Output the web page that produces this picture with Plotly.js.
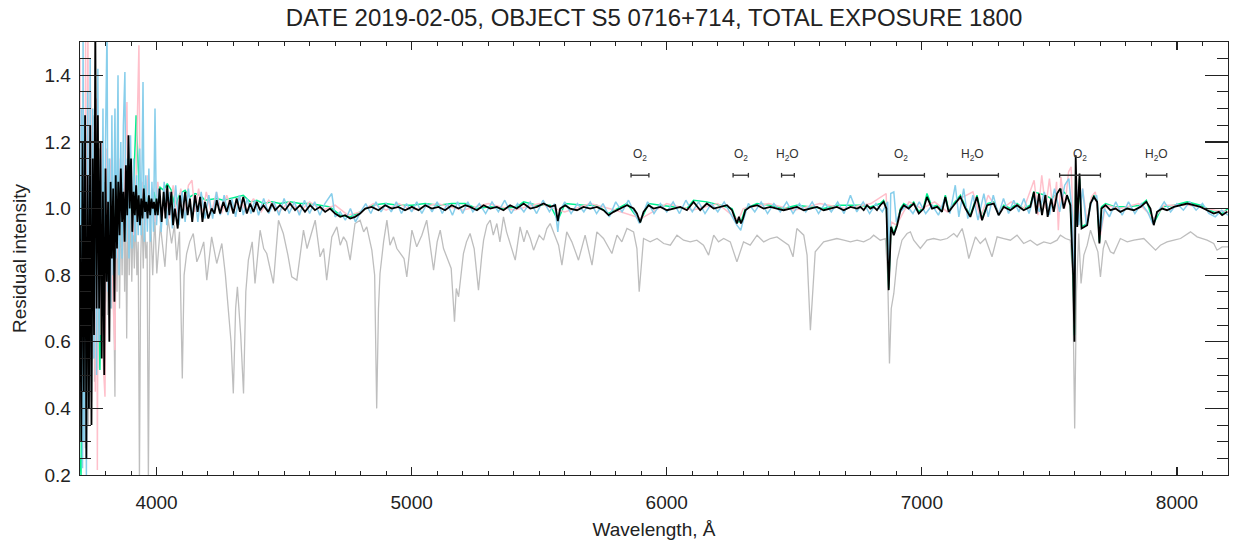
<!DOCTYPE html>
<html>
<head>
<meta charset="utf-8">
<script src="https://cdn.plot.ly/plotly-3.0.1.min.js"></script>
<style>html,body{margin:0;padding:0;background:#fff;}#chart{width:1238px;height:544px;}</style>
</head>
<body>
<div id="chart"></div>
<script>
// ---- Gray (comparison) spectrum ----
const grayWl = [3700,3703,3706,3709,3712,3715,3718,3721,3724,3727,3730,3733,3736,3739,3742,3745,3748,3751,3754,3757,3760,3763,3766,3769,3772,3775,3778,3781,3784,3787,3790,3793,3796,3800,3804,3808,3812,3816,3820,3824,3828,3832,3837,3841,3845,3850,3855,3860,3865,3870,3875,3879,3883,3888,3893,3898,3903,3908,3913,3918,3923,3928,3933,3938,3943,3948,3953,3958,3963,3968,3972,
3975,3985,3993,4001,4015,4033,4045,4059,4070,4079,4090,4101,4108,4118,4130,4144,4158,4171,4185,4197,4216,4236,4256,4270,4282,4292,4301,4310,4317,4330,4341,4350,4360,4375,4386,4406,4420,4432,4445,4458,4478,4497,4515,4530,4550,4565,4576,4590,4602,4622,4641,4655,4667,4687,4707,4720,4733,4745,4759,4778,4798,4812,4824,4844,4855,4863,4870,4876,4890,4903,4915,4929,4942,4955,4970,4981,5001,5020,5040,5059,5075,5086,5100,5112,5125,5138,5155,5168,5175,5184,5195,5203,5215,5229,5245,5262,5275,5282,5295,5308,5320,5334,5346,5360,5372,5386,5406,5425,5440,5452,5465,5478,5500,5517,5530,5543,
5576,5589,5608,5628,5654,5680,5707,5726,5752,5785,5805,5824,5844,5870,5883,5892,5900,5909,5935,5962,5988,6014,6040,6066,6092,6118,6144,6164,6184,6203,6223,6249,6275,6288,6301,6327,6354,6380,6406,6432,6458,6478,6495,6510,6537,6550,6563,6573,6582,6615,6641,6667,6694,6720,6746,6772,6798,
6811,6837,6857,6866,6873,6880,6890,6903,6922,6942,6955,6968,6994,7020,7046,7073,7099,7125,7138,7158,7171,7184,7197,7210,7229,7249,7275,7295,7321,7347,7373,7399,7425,7452,7478,7504,7530,7543,7563,7582,7591,7599,7606,7615,7624,7635,7648,7661,7674,7690,7700,7711,7720,7739,7752,7778,7805,7831,7870,7896,7916,7935,7961,7988,8014,8053,8079,8118,8144,8157,8177,8200];
const grayFlux = [1.10,0.40,1.30,0.30,1.35,0.45,1.28,0.28,1.22,0.40,1.30,0.35,1.18,0.50,1.25,0.42,1.20,0.55,1.28,0.48,1.15,0.60,1.22,0.52,1.12,0.65,1.18,0.58,1.10,0.70,1.15,0.62,1.08,0.72,1.12,0.68,1.05,0.75,1.10,0.70,1.02,0.78,0.435,1.05,0.75,1.08,0.70,1.02,0.80,1.06,0.75,1.00,0.61,1.05,0.80,1.02,0.78,0.98,0.82,1.00,0.80,0.90,0.18,0.85,1.00,0.82,0.98,0.85,0.90,0.18,0.88,
1.01,0.80,0.98,0.805,0.95,0.825,0.97,0.895,0.95,0.845,0.93,0.49,0.80,0.865,0.90,0.925,0.84,0.865,0.90,0.785,0.915,0.835,0.895,0.80,0.685,0.60,0.445,0.70,0.765,0.62,0.445,0.75,0.845,0.90,0.775,0.935,0.88,0.865,0.82,0.775,0.965,0.925,0.86,0.795,0.785,0.88,0.935,0.88,0.915,0.965,0.855,0.88,0.785,0.915,0.945,0.89,0.915,0.90,0.845,0.955,0.965,0.93,0.945,0.875,0.80,0.40,0.70,0.805,0.90,0.965,0.89,0.915,0.88,0.865,0.85,0.795,0.935,0.885,0.92,0.965,0.88,0.815,0.90,0.935,0.88,0.855,0.82,0.66,0.76,0.735,0.82,0.865,0.90,0.925,0.88,0.755,0.86,0.905,0.95,0.965,0.92,0.955,0.90,0.975,0.93,0.895,0.845,0.945,0.90,0.935,0.91,0.875,0.92,0.905,0.94,0.955,
0.89,0.83,0.93,0.90,0.845,0.92,0.83,0.93,0.91,0.865,0.92,0.90,0.94,0.93,0.88,0.75,0.82,0.91,0.90,0.91,0.895,0.89,0.92,0.905,0.90,0.905,0.89,0.86,0.92,0.90,0.91,0.90,0.84,0.87,0.90,0.89,0.92,0.90,0.91,0.915,0.90,0.89,0.855,0.94,0.92,0.86,0.635,0.78,0.87,0.90,0.905,0.91,0.905,0.90,0.905,0.90,0.91,
0.92,0.905,0.91,0.80,0.535,0.70,0.745,0.845,0.905,0.925,0.93,0.905,0.88,0.905,0.91,0.905,0.91,0.925,0.915,0.94,0.90,0.85,0.88,0.915,0.895,0.91,0.855,0.915,0.91,0.905,0.92,0.895,0.905,0.89,0.90,0.895,0.905,0.92,0.91,0.905,0.80,0.34,0.75,0.925,0.775,0.86,0.89,0.935,0.905,0.87,0.795,0.88,0.905,0.87,0.865,0.91,0.90,0.905,0.91,0.89,0.875,0.89,0.90,0.905,0.91,0.93,0.915,0.905,0.895,0.875,0.885,0.885];

// ---- Black (main) spectrum ----
const blackWl = [3700,3705,3710,3715,3720,3725,3730,3735,3740,3745,3750,3755,3760,3765,3770,3775,3780,3785,3790,3795,3800,3805,3810,3815,3820,3825,3830,3835,3840,3845,3850,3855,3860,3865,3870,3875,3880,3885,3890,3895,3900,3905,3910,3915,3920,3925,3930,3935,3940,3945,3950,3955,3960,3965,3970,3975,3980,3985,3990,3995,4000,4005,4012,4020,4028,4035,4042,4050,4058,4065,
4072,4083,4092,4101,4112,4122,4131,4140,4151,4161,4171,4180,4190,4203,4216,4227,4236,4249,4262,4275,4288,4301,4314,4327,4340,4354,4367,4380,4393,4406,4419,4438,4452,4465,4484,4504,4523,4543,4563,4582,4602,4621,4641,4661,4680,4700,4720,4739,4759,4778,4798,4818,4844,4870,4896,4922,4948,4974,5001,5027,5053,5079,5105,5131,5157,5184,5210,
5229,5256,5282,5308,5334,5360,5386,5412,5439,5465,5491,5517,5543,5563,5573,5582,5602,5621,5648,5674,5700,5726,5752,5772,5792,5818,5844,5870,5883,5896,5909,5929,5948,5975,6001,6027,6053,6079,6105,6131,6157,6184,6210,6236,6256,6269,6275,6283,6291,6299,6308,6327,6354,6380,6406,6432,6458,6484,6510,6537,6563,6589,6615,6641,6667,6694,6720,6746,
6759,6772,6785,6798,6811,6824,6837,6850,6861,6870,6879,6890,6903,6916,6929,6948,6968,6988,7007,7020,7040,7060,7079,7092,7105,7125,7151,7171,7190,7216,7236,7256,7282,7301,7321,7347,7373,7399,7425,7439,7449,7459,7471,7484,7493,7507,7517,7530,7543,7556,7569,7582,7593,7598,7603,7609,7618,7626,7635,7648,7661,7674,7687,7696,7704,7720,7739,7759,7778,7805,7831,7857,7880,7896,7909,7922,7942,7961,7988,8014,8040,8066,8092,8118,8144,8164,8177,8197];
const blackFlux = [0.95,0.30,1.20,0.45,1.28,0.25,1.10,0.40,1.25,0.35,1.15,0.62,1.55,0.70,1.28,0.70,1.20,0.55,1.05,0.50,1.12,0.78,1.02,0.60,1.08,0.85,1.06,0.72,1.10,0.88,1.08,0.92,1.12,0.96,1.05,0.90,1.13,0.98,1.22,1.00,1.15,0.93,1.05,0.98,1.07,0.96,1.04,0.95,1.03,0.97,1.06,0.99,1.02,0.97,1.04,0.98,1.03,1.00,1.02,0.98,1.03,0.98,1.06,0.96,1.05,0.97,1.07,0.98,1.05,0.95,
1.00,0.94,1.04,0.97,1.05,0.98,1.03,0.96,1.04,0.99,1.035,0.96,1.02,0.97,1.00,0.985,1.025,0.985,1.02,0.99,1.025,0.985,1.03,0.99,1.035,0.985,1.015,0.99,1.02,0.995,1.01,0.99,1.015,0.995,1.01,0.995,1.015,0.995,1.01,0.99,1.01,0.995,1.005,0.99,1.0,0.985,0.975,0.98,0.97,0.975,0.985,1.0,1.005,0.995,1.01,1.0,1.005,0.995,1.005,0.995,1.01,1.0,1.005,0.995,1.01,1.0,1.01,
1.005,0.995,1.01,1.0,1.005,0.995,1.01,1.0,1.015,1.0,1.005,1.015,1.005,1.01,0.962,1.0,1.01,1.0,0.995,1.005,1.0,1.005,0.995,0.98,0.99,1.0,1.01,1.0,0.985,0.958,0.99,1.01,1.0,1.005,0.995,1.0,1.005,0.995,1.02,0.995,1.015,1.0,1.005,1.01,0.995,0.97,0.955,0.975,0.955,0.97,0.995,1.005,1.01,1.0,1.005,1.0,0.995,1.0,1.005,0.995,1.0,1.005,0.995,1.0,1.005,0.995,1.005,1.0,
1.005,0.995,1.01,1.0,1.005,0.995,1.01,1.02,1.0,0.755,0.945,0.92,0.95,0.995,1.01,1.0,1.015,0.985,1.0,1.035,1.0,1.005,0.99,1.035,0.99,1.01,1.035,1.0,0.975,1.035,0.965,1.01,1.015,0.98,1.005,0.995,1.01,0.995,1.005,1.05,0.985,1.045,0.98,1.04,0.975,1.03,0.99,1.045,1.06,1.0,1.04,1.01,0.80,0.60,1.16,0.945,1.105,0.94,0.945,0.95,1.015,1.035,1.02,0.895,1.0,1.01,0.995,1.0,0.99,1.0,0.995,1.005,1.02,1.0,0.95,0.99,1.0,0.995,1.005,1.01,1.015,1.01,1.005,0.995,0.985,0.99,0.98,0.99];

// ---- Sky-blue spectrum ----
const skyWl = [3700,3705,3710,3712,3716,3720,3725,3730,3735,3740,3745,3750,3755,3760,3765,3770,3775,3780,3785,3790,3795,3800,3806,3810,3815,3820,3825,3830,3837,3842,3849,3853,3860,3865,3870,3876,3880,3886,3892,3898,3904,3910,3916,3922,3928,3934,3940,3947,3952,3958,3964,3970,3976,3982,3988,3994,4000,
4008,4018,4030,4040,4052,4062,4075,4088,4100,4112,4125,4138,4150,4162,4175,4190,4205,4220,4235,4250,4265,4280,4295,4310,4325,4340,4355,4370,4385,4400,4420,4440,4460,4480,4500,4520,4540,4560,4580,4600,4620,4640,4660,4687,4700,4720,4740,4760,4780,4800,4820,4840,4860,4880,4900,4920,4940,4960,4980,5000,5020,5040,5060,5080,5100,5120,5140,5160,5180,5200,5220,5240,
5265,5290,5315,5340,5365,5390,5415,5440,5465,5490,5515,5540,5560,5573,5580,5600,5625,5650,5675,5700,5725,5750,5775,5800,5825,5850,5875,5893,5905,5925,5950,5975,6000,6025,6050,6075,6100,6125,6150,6175,6200,6225,6250,6275,6290,6300,6320,6345,6370,6395,6420,6445,6470,6495,6520,6545,6570,6595,6620,6645,6670,6695,6720,6745,6770,6795,6820,6845,6866,6872,6878,6890,6900,6915,6940,6965,6990,7015,7040,7065,7090,7110,7131,7145,7164,7180,7200,7220,7243,7260,7280,7300,7320,7340,7360,7380,7400,7420,7440,7460,7480,7500,7520,7540,7560,7576,7590,7598,7605,7615,7630,7645,7665,7685,7700,7715,7735,7760,7785,7810,7835,7860,7885,7905,7925,7950,7975,8000,8025,8050,8075,8100,8125,8150,8175,8200];
const skyFlux = [0.60,1.30,0.22,1.55,0.30,1.20,0.20,1.35,0.40,1.45,0.45,1.30,0.55,1.25,0.50,1.42,0.60,1.15,0.70,1.30,0.62,1.20,1.55,0.75,1.15,0.70,1.28,0.80,1.30,0.85,1.40,0.80,1.20,0.85,1.25,1.41,0.90,1.15,0.85,1.22,0.88,1.15,0.90,1.10,0.92,1.18,0.92,1.38,0.90,1.10,0.93,1.12,0.90,1.08,0.93,1.30,0.95,
1.06,0.93,1.08,0.95,1.05,0.94,1.07,0.95,1.05,0.96,1.06,0.97,1.04,0.96,1.05,0.97,1.04,0.97,1.05,0.98,1.04,0.98,1.03,0.975,1.04,0.98,1.03,0.985,1.025,0.98,1.03,0.985,1.02,0.98,1.03,0.985,1.02,0.98,1.025,0.985,1.02,0.98,1.015,1.045,0.975,0.99,0.965,1.0,0.96,0.99,1.015,0.985,1.02,0.99,1.015,0.99,1.02,0.985,1.015,0.99,1.02,0.985,1.015,0.99,1.02,0.985,1.015,0.98,1.02,0.985,1.02,0.99,
1.015,0.985,1.02,0.99,1.025,0.985,1.015,0.99,1.02,0.985,1.025,0.99,1.015,0.93,0.99,1.02,0.985,1.015,0.99,1.02,0.985,1.015,0.975,1.02,0.99,1.025,0.985,0.955,0.98,1.02,0.985,1.015,0.99,1.02,0.985,1.025,0.99,1.02,0.985,1.015,0.99,1.02,0.985,0.95,0.935,0.965,1.015,0.99,1.02,0.985,1.015,0.99,1.02,0.985,1.015,0.99,1.02,0.985,1.015,0.99,1.02,0.985,1.04,0.99,1.02,0.985,1.015,0.99,1.02,0.80,1.045,1.05,0.96,0.99,1.01,0.985,1.02,0.985,1.01,0.98,1.03,0.985,1.07,0.975,1.06,0.97,1.04,0.965,1.045,0.975,1.04,0.98,1.03,0.985,1.025,0.99,1.03,0.985,1.04,0.99,1.05,0.98,1.06,0.99,1.07,1.09,0.98,0.70,1.08,0.95,1.06,0.95,1.02,1.04,0.93,1.0,0.975,1.02,0.98,1.02,0.985,1.015,0.99,0.955,0.99,1.02,0.99,1.015,0.995,1.02,0.995,1.015,0.985,0.975,0.995,0.98];

// ---- Pink spectrum ----
const pinkWl = [3700,3704,3710,3716,3722,3726,3731,3736,3742,3748,3754,3760,3766,3768,3772,3778,3784,3790,3798,3804,3812,3818,3826,3837,3842,3850,3858,3866,3876,3884,3890,3900,3910,3920,3931,3936,3945,3955,3965,3975,3985,3995,4005,4020,4035,4050,4065,4080,4095,4110,4125,4139,4150,4165,4180,4195,4215,4235,4255,4275,4300,4325,4350,4380,4410,4440,4480,4520,4560,4600,4650,4700,4750,4800,4850,4900,4950,5000,5100,5200,5300,5400,5500,5600,5700,5800,5900,6000,6100,6200,6280,6300,6400,6500,6600,6700,6800,6860,6870,6880,6900,6950,7000,7050,7100,7150,7200,7230,7260,7300,7350,7400,7440,7455,7470,7485,7500,7515,7528,7535,7545,7560,7575,7585,7592,7598,7605,7615,7630,7648,7665,7680,7700,7720,7780,7850,7909,7950,8050,8150,8200];
const pinkFlux = [1.45,0.40,1.30,0.35,1.50,0.50,1.55,0.40,1.35,0.55,1.25,0.45,1.33,0.215,1.15,0.62,1.20,0.55,0.435,1.18,0.75,1.15,0.80,0.575,1.10,0.85,1.15,0.88,1.12,1.32,0.90,1.12,0.92,1.10,1.49,0.95,1.08,0.95,1.10,0.95,1.06,0.96,1.08,0.96,1.06,0.97,1.07,0.98,1.06,0.98,1.07,1.085,0.99,1.06,0.98,1.05,0.985,1.05,0.985,1.04,0.99,1.035,0.99,1.03,0.99,1.025,0.99,1.02,0.99,1.02,0.995,1.01,0.98,0.99,1.015,0.995,1.015,0.995,1.015,0.995,1.015,0.995,1.015,0.99,1.015,0.995,0.97,1.015,0.995,1.015,0.965,1.0,1.015,0.995,1.015,1.0,1.015,1.045,0.80,0.96,0.95,1.02,1.0,1.02,0.99,1.03,1.05,0.97,1.04,0.99,1.02,1.0,1.085,0.98,1.10,1.0,1.09,0.99,1.08,0.935,1.095,1.0,1.11,1.125,0.98,0.65,1.10,0.96,1.06,0.96,1.035,1.05,0.92,1.01,1.0,1.015,0.97,1.01,1.01,0.995,0.99];

// ---- Green spectrum ----
const greenWl = [3700,3704,3712,3720,3730,3740,3750,3760,3770,3778,3790,3800,3815,3830,3850,3870,3890,3905,3920,3935,3950,3970,3990,4005,4012,4028,4042,4058,4072,4092,4112,4131,4151,4171,4190,4236,4262,4288,4314,4340,4367,4393,4419,4452,4484,4523,4563,4602,4641,4680,4720,4759,4798,4844,4896,4948,5001,5053,5105,5157,5210,5256,5308,5360,5412,5439,5491,5543,5573,5602,5674,5726,5772,5844,5896,5929,5975,6027,6079,6105,6157,6210,6256,6275,6291,6308,6354,6406,6458,6510,6563,6615,6667,6720,
6759,6798,6837,6850,6861,6870,6879,6890,6903,6916,6929,6948,6968,6988,7007,7020,7040,7060,7079,7092,7105,7125,7151,7171,7190,7216,7236,7256,7282,7301,7321,7347,7373,7399,7425,7439,7459,7484,7507,7530,7543,7569,7582,7593,7598,7603,7609,7618,7626,7648,7661,7674,7687,7696,7704,7720,7759,7805,7857,7880,7909,7942,7988,8040,8092,8144,8177,8200];
const greenFlux = [0.25,0.20,0.95,1.10,0.60,1.20,0.70,1.15,0.80,0.515,1.05,0.85,1.05,0.90,1.10,0.95,1.15,0.95,1.28,1.00,1.07,1.00,1.05,0.99,1.065,1.055,1.075,1.055,1.005,1.045,1.055,1.035,1.045,1.04,1.025,1.03,1.025,1.03,1.035,1.04,1.02,1.025,1.015,1.02,1.015,1.02,1.015,1.015,1.01,1.005,0.98,0.975,0.99,1.01,1.015,1.01,1.01,1.015,1.01,1.015,1.015,1.0,1.005,1.0,1.005,1.02,1.01,1.01,0.965,1.015,1.01,1.01,0.985,1.015,0.96,1.015,1.01,1.005,1.0,1.025,1.02,1.01,1.0,0.96,0.96,1.0,1.015,1.01,1.0,1.01,1.005,1.0,1.01,1.01,
1.01,1.005,1.015,1.025,1.005,0.76,0.95,0.925,0.955,1.0,1.015,1.005,1.02,0.99,1.005,1.045,1.005,1.01,0.995,1.04,0.995,1.015,1.04,1.005,0.98,1.04,0.97,1.015,1.02,0.985,1.01,1.0,1.015,1.0,1.01,1.05,1.045,1.04,1.03,1.045,1.06,1.04,1.015,0.80,0.62,1.10,0.95,1.09,0.945,0.955,1.02,1.04,1.025,0.90,1.005,1.015,1.005,1.005,1.01,1.025,0.955,1.005,1.01,1.02,1.01,0.99,0.985,1.0];

// ---- Telluric band markers ----
const bandStart = [5860,6260,6450,6830,7100,7540,7880];
const bandEnd   = [5930,6320,6500,7010,7300,7700,7960];
const bandLabel = ['O<sub>2</sub>','O<sub>2</sub>','H<sub>2</sub>O','O<sub>2</sub>','H<sub>2</sub>O','O<sub>2</sub>','H<sub>2</sub>O'];
const bandLevel = 1.10;
const bandCap = 0.007;
const bandLabelLevel = 1.16;

const bx = [], by = [];
for (let i = 0; i < bandStart.length; i++) {
  bx.push(bandStart[i], bandStart[i], null, bandStart[i], bandEnd[i], null, bandEnd[i], bandEnd[i], null);
  by.push(bandLevel - bandCap, bandLevel + bandCap, null, bandLevel, bandLevel, null, bandLevel - bandCap, bandLevel + bandCap, null);
}

const FONT = 'Liberation Sans, Arial, Helvetica, sans-serif';
const traces = [
  {x: grayWl, y: grayFlux, mode: 'lines', line: {color: '#BEBEBE', width: 1.3}, hoverinfo: 'skip'},
  {x: greenWl, y: greenFlux, mode: 'lines', line: {color: '#00F090', width: 1.5}, hoverinfo: 'skip'},
  {x: pinkWl, y: pinkFlux, mode: 'lines', line: {color: '#FFC0CB', width: 1.5}, hoverinfo: 'skip'},
  {x: skyWl, y: skyFlux, mode: 'lines', line: {color: '#87CEEB', width: 1.5}, hoverinfo: 'skip'},
  {x: blackWl, y: blackFlux, mode: 'lines', line: {color: '#000000', width: 1.8}, hoverinfo: 'skip'},
  {x: bx, y: by, mode: 'lines', line: {color: '#333333', width: 1.3}, hoverinfo: 'skip', connectgaps: false}
];

const annotations = bandLabel.map((t, i) => ({
  x: (bandStart[i] + bandEnd[i]) / 2, y: bandLabelLevel, xref: 'x', yref: 'y',
  text: t, showarrow: false, font: {family: FONT, size: 12, color: '#333'},
  xanchor: 'center', yanchor: 'middle'
}));

const layout = {
  width: 1238, height: 544,
  margin: {l: 80, r: 10, t: 42, b: 69},
  paper_bgcolor: '#fff', plot_bgcolor: '#fff',
  showlegend: false,
  font: {family: FONT, size: 19, color: '#222'},
  title: {text: 'DATE 2019-02-05, OBJECT S5 0716+714, TOTAL EXPOSURE 1800', font: {family: FONT, size: 24, color: '#222'},
          x: 0.5, xref: 'paper', y: 1 - 18/544, yref: 'container', yanchor: 'middle'},
  xaxis: {
    range: [3700, 8200], autorange: false, showgrid: false, zeroline: false,
    showline: true, linecolor: '#222', linewidth: 1.3, mirror: 'allticks',
    ticks: 'inside', ticklen: 8, tickwidth: 1.2, tickcolor: '#222', dtick: 1000, tick0: 4000,
    minor: {ticks: 'inside', ticklen: 4, dtick: 100, tickcolor: '#222', tickwidth: 1, showgrid: false},
    tickfont: {family: FONT, size: 19, color: '#222'}, ticklabelstandoff: 10,
    title: {text: 'Wavelength, Å', font: {family: FONT, size: 19, color: '#222'}, standoff: 10}
  },
  yaxis: {
    range: [0.2, 1.5], autorange: false, showgrid: false, zeroline: false,
    showline: true, linecolor: '#222', linewidth: 1.3, mirror: 'allticks',
    ticks: 'inside', ticklen: 23, tickwidth: 1.2, tickcolor: '#222', dtick: 0.2, tick0: 0.2,
    tickformat: '.1f',
    minor: {ticks: 'inside', ticklen: 11, dtick: 0.05, tickcolor: '#222', tickwidth: 1, showgrid: false},
    tickfont: {family: FONT, size: 19, color: '#222'}, ticklabelstandoff: 4,
    title: {text: 'Residual intensity', font: {family: FONT, size: 19, color: '#222'}, standoff: 12}
  },
  annotations: annotations
};

Plotly.newPlot('chart', traces, layout, {displayModeBar: false, staticPlot: true});
</script>
</body>
</html>
